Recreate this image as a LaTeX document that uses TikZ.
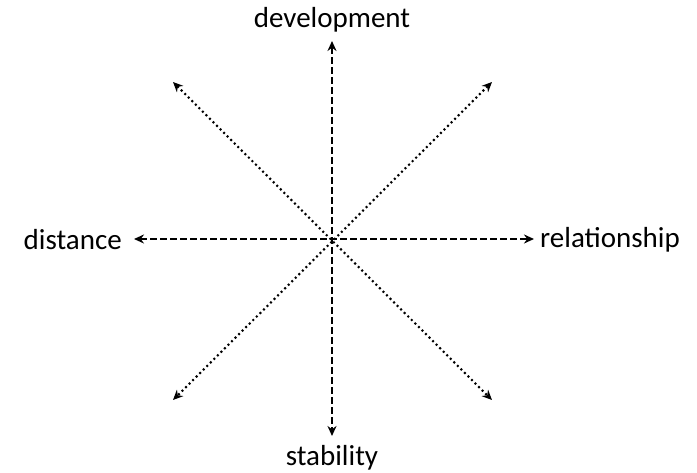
\documentclass[tikz,border=0pt]{standalone}
\usepackage{fontspec}
\setmainfont{Carlito}
\usetikzlibrary{arrows.meta}
\begin{document}
\begin{tikzpicture}[x=1pt,y=1pt,
  tip/.style={Stealth[length=10pt,width=9pt]},
  axisline/.style={line width=2.1pt, dash pattern=on 7pt off 3pt, {Stealth[length=10pt,width=9pt]}-{Stealth[length=10pt,width=9pt]}},
  diagline/.style={line width=2.1pt, dash pattern=on 2pt off 3pt, {Stealth[length=10pt,width=9pt]}-{Stealth[length=10pt,width=9pt]}},
  lbl/.style={font=\fontsize{29}{34}\selectfont, inner sep=0pt}]
\useasboundingbox (0,0) rectangle (697,472);
\coordinate (c) at (332,232);
\coordinate (top) at (332,431);
\coordinate (bot) at (332,36);
\coordinate (lft) at (134,233);
\coordinate (rgt) at (534,233);
\coordinate (tl) at (173,390);
\coordinate (tr) at (492,390);
\coordinate (bl) at (173,72);
\coordinate (br) at (492,72);
\draw[axisline] (top) -- (bot);
\draw[axisline] (lft) -- (rgt);
\draw[diagline] (tl) -- (br);
\draw[diagline] (tr) -- (bl);
\node[lbl, anchor=base] (dev) at (332,444) {development};
\node[lbl, anchor=base] (stab) at (332,7) {stability};
\node[lbl, anchor=base east] (dist) at (122,222) {distance};
\node[lbl, anchor=base west] (rel) at (540,224) {relationship};
\end{tikzpicture}
\end{document}
